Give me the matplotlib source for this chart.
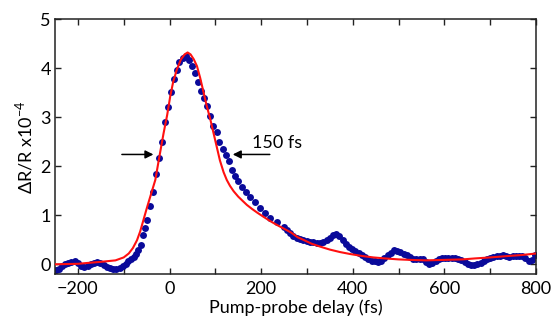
import matplotlib
matplotlib.use("Agg")
import matplotlib.pyplot as plt
from matplotlib.ticker import MultipleLocator

# measured points (delay in fs, dR/R in 1e-4)
delay = [
    -248, -242, -235, -228, -221, -214, -207, -200, -193, -186, -179, -172,
    -165, -158, -151, -144, -137, -130, -123, -116, -109, -102, -96, -90,
    -84, -78, -73, -68, -63, -57, -53, -49, -42, -35, -29, -24, -16, -10,
    -3, 3, 9, 16, 21, 29, 36, 43, 49, 55, 62, 68, 76, 82, 89, 96, 103, 109,
    116, 124, 130, 136, 142, 150, 158, 167, 176, 187, 198, 209, 220, 234,
    249, 256, 263, 270, 278, 285, 292, 300, 307, 314, 321, 329, 336, 343,
    350, 357, 364, 371, 378, 385, 392, 399, 406, 413, 420, 427, 434, 441,
    448, 455, 462, 469, 476, 483, 490, 497, 504, 511, 518, 525, 532, 539,
    546, 553, 560, 567, 574, 581, 588, 595, 602, 609, 616, 623, 630, 637,
    644, 651, 658, 665, 672, 679, 686, 693, 700, 707, 714, 721, 728, 735,
    742, 749, 756, 763, 770, 777, 784, 791, 797,
]
signal = [
    -0.12, -0.09, -0.04, 0.00, 0.03, 0.05, 0.06, 0.02, -0.04, -0.05, -0.03, 0.00,
    0.03, 0.05, 0.03, -0.01, -0.05, -0.08, -0.09, -0.09, -0.08, -0.04, 0.01, 0.06,
    0.10, 0.14, 0.20, 0.29, 0.40, 0.60, 0.75, 0.90, 1.19, 1.48, 1.85, 2.17, 2.50, 2.90,
    3.20, 3.52, 3.78, 3.97, 4.12, 4.21, 4.24, 4.17, 4.05, 3.90, 3.71, 3.54, 3.39, 3.22, 3.03, 2.82, 2.69, 2.50,
    2.35, 2.23, 2.11, 1.92, 1.80, 1.70, 1.58, 1.48, 1.38, 1.27, 1.14, 1.04, 0.95, 0.87,
    0.76, 0.70, 0.64, 0.58, 0.53, 0.51, 0.49, 0.47, 0.46, 0.45, 0.44, 0.43, 0.46, 0.50,
    0.54, 0.59, 0.62, 0.58, 0.50, 0.42, 0.35, 0.31, 0.27, 0.23, 0.19, 0.14, 0.10, 0.07,
    0.06, 0.05, 0.07, 0.12, 0.18, 0.24, 0.29, 0.28, 0.25, 0.22, 0.19, 0.14, 0.11, 0.10,
    0.11, 0.10, 0.05, 0.01, 0.03, 0.07, 0.10, 0.12, 0.13, 0.12, 0.12, 0.12, 0.11, 0.08,
    0.04, 0.01, -0.01, -0.01, 0.01, 0.03, 0.06, 0.10, 0.12, 0.14, 0.16, 0.17, 0.18, 0.17,
    0.15, 0.16, 0.17, 0.17, 0.17, 0.12, 0.06, 0.08, 0.18,
]

# fitted curve
fit_delay = [
    -250, -200, -176, -150, -118, -100, -89, -80, -71, -64, -57, -50, -42, -31,
    -22, -13, -5, 1.5, 8, 16, 25, 33, 39.5, 46, 53, 60, 67, 74, 81, 89, 96,
    103, 110, 118, 125, 132, 140, 150, 160, 169, 180, 192, 205, 220, 235,
    249, 265, 280, 292, 310, 329, 350, 372, 394, 420, 445, 470, 500, 525, 560,
    600, 640, 667, 700, 740, 770, 800,
]
fit_signal = [
    0.00, 0.01, 0.03, 0.05, 0.08, 0.14, 0.22, 0.33, 0.49, 0.67, 0.90, 1.13, 1.38, 1.72,
    2.20, 2.67, 3.05, 3.42, 3.72, 3.97, 4.18, 4.28, 4.32, 4.28, 4.18, 4.04, 3.80, 3.52, 3.24, 2.96, 2.68,
    2.40, 2.12, 1.88, 1.72, 1.60, 1.49, 1.38, 1.29, 1.21, 1.13, 1.05, 0.97, 0.88, 0.80,
    0.73, 0.65, 0.55, 0.50, 0.42, 0.36, 0.30, 0.25, 0.21, 0.17, 0.14, 0.12, 0.10, 0.09, 0.08,
    0.09, 0.10, 0.12, 0.14, 0.17, 0.19, 0.22,
]

plt.rcParams["font.family"] = ["Lato", "DejaVu Sans"]
plt.rcParams["font.size"] = 13
plt.rcParams["mathtext.fontset"] = "custom"
plt.rcParams["mathtext.rm"] = "Lato"

fig = plt.figure(figsize=(5.52, 3.24), dpi=100)
ax = fig.add_axes([0.0996, 0.154, 0.8714, 0.787])

ax.plot(delay, signal, "o", color="#0a0a9a", markersize=5.0, markeredgewidth=0, zorder=2)
ax.plot(fit_delay, fit_signal, color="#ff1010", linewidth=1.5, zorder=3)

ax.set_xlim(-250, 800)
ax.set_ylim(-0.2, 5)
ax.xaxis.set_major_locator(MultipleLocator(200))
ax.xaxis.set_minor_locator(MultipleLocator(100))
ax.yaxis.set_major_locator(MultipleLocator(1))
ax.tick_params(which="both", direction="in", top=True, right=True, length=4.5, width=1.0, color="#222222")
ax.tick_params(axis="x", which="major", pad=5)
ax.tick_params(axis="y", which="major", pad=3)
for sp in ax.spines.values():
    sp.set_linewidth(1.1)
    sp.set_color("#222222")

ax.set_xlabel("Pump-probe delay (fs)", labelpad=2)
ax.set_ylabel("\u0394R/R x10$^{\\mathrm{-4}}$", labelpad=4)

# FWHM arrows
arrow = dict(arrowstyle="-|>", color="black", lw=1.1, mutation_scale=12)
ax.annotate("", xy=(-29, 2.24), xytext=(-110, 2.24), arrowprops=arrow)
ax.annotate("", xy=(132, 2.24), xytext=(225, 2.24), arrowprops=arrow)
ax.text(180, 2.48, "150 fs", ha="left", va="center")

fig.savefig("out.png", dpi=100)
